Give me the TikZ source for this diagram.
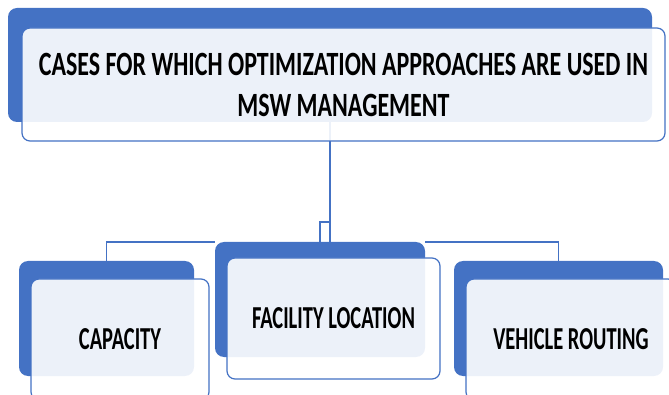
\documentclass[tikz,border=0pt]{standalone}
\usepackage{fontspec}
\setmainfont{Carlito}
\usepackage{graphicx}
\usepackage{xcolor}
\definecolor{officeblue}{HTML}{4472C4}
\pgfdeclarelayer{bg}
\pgfsetlayers{bg,main}
\newcommand{\squeeze}[2][.64]{\scalebox{#1}[1]{#2}}

\begin{document}
\begin{tikzpicture}[x=1pt, y=-1pt,
    backbox/.style={fill=officeblue, rounded corners=9pt, inner sep=0pt},
    frontbox/.style={draw=officeblue, line width=1.2pt, fill=white, fill opacity=.9, text opacity=1,
        rounded corners=8pt, inner sep=0pt, font=\fontsize{32}{38}\selectfont\bfseries, align=center},
    link/.style={draw=officeblue, line width=1.5pt}
]
    \useasboundingbox (0,0) rectangle (669,395);
    \clip (0,0) rectangle (669,395);

    % Hintergrund.
    \node[backbox, minimum width=644pt, minimum height=114pt] (topback)   at (330,65)    {};
    \node[backbox, minimum width=175pt, minimum height=115pt] (leftback)  at (106.5,318.5) {};
    \node[backbox, minimum width=210pt, minimum height=115pt] (midback)   at (320,299.5) {};
    \node[backbox, minimum width=209pt, minimum height=115pt] (rightback) at (558.5,318.5) {};

    % Vordergrund.
    \node[frontbox, minimum width=643pt, minimum height=113pt, font=\fontsize{34}{41}\selectfont\bfseries] (topbox) at (343.5,84.5)
        {\squeeze[.705]{CASES FOR WHICH OPTIMIZATION APPROACHES ARE USED IN}\\\squeeze[.705]{MSW MANAGEMENT}};
    \node[frontbox, minimum width=178pt, minimum height=121pt] (leftbox)  at (120,339.5)   {\squeeze{CAPACITY}};
    \node[frontbox, minimum width=213pt, minimum height=121pt] (midbox)   at (333.5,318.5) {\squeeze{FACILITY LOCATION}};
    \node[frontbox, minimum width=210pt, minimum height=121pt] (rightbox) at (571,339.5)   {\squeeze{VEHICLE ROUTING}};

    % Verbindungen.
    \coordinate (jog) at (330,222);
    \begin{pgfonlayer}{bg}
        \draw[link] (topback.south) -- (topback.south |- midback.north);
        \draw[link] (midback.north) |- (jog);
        \draw[link] (leftback.north) |- (midback.north west);
        \draw[link] (rightback.north) |- (midback.north east);
    \end{pgfonlayer}
\end{tikzpicture}
\end{document}
